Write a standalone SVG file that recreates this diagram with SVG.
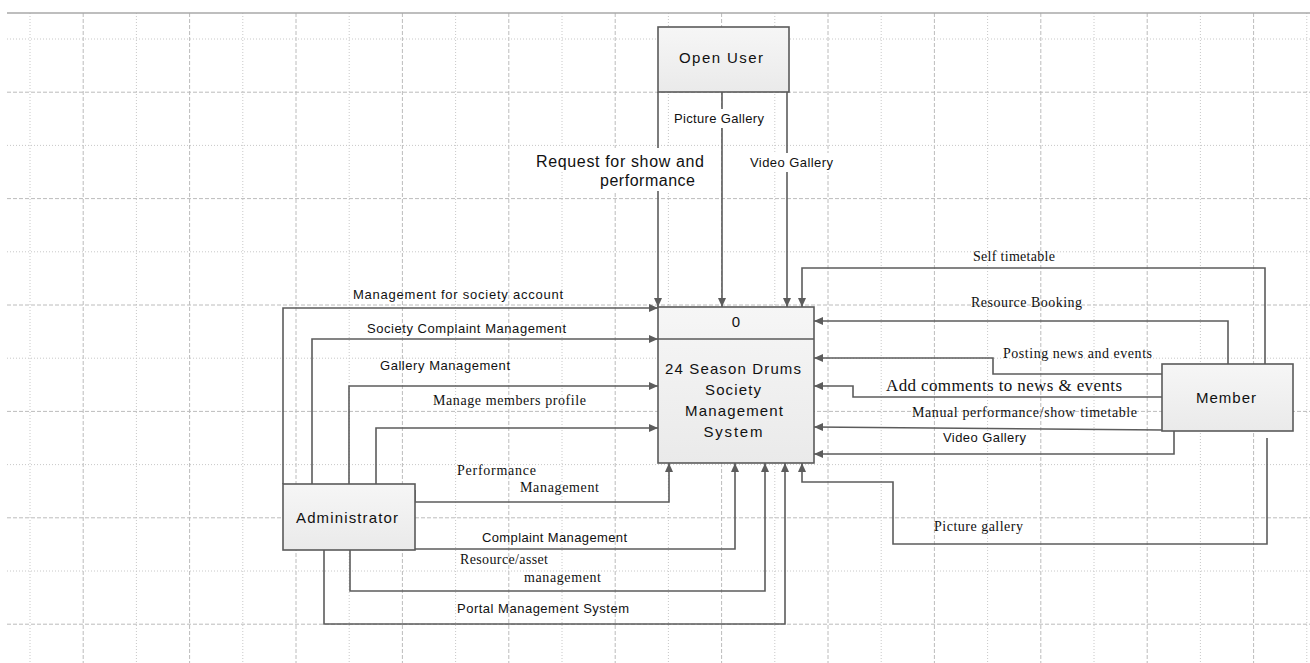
<svg xmlns="http://www.w3.org/2000/svg" width="1310" height="663" viewBox="0 0 1310 663">
  <defs>
    <linearGradient id="boxFill" x1="0" y1="0" x2="0" y2="1">
      <stop offset="0" stop-color="#f6f6f6"/>
      <stop offset="1" stop-color="#eaeaea"/>
    </linearGradient>
    <marker id="arrow" markerUnits="userSpaceOnUse" markerWidth="10" markerHeight="8" refX="9" refY="4" orient="auto">
      <path d="M0,0 L9,4 L0,8 z" fill="#5c5c5c"/>
    </marker>
    <style>
      .grid-dot{fill:none;stroke:#c8c8c8;stroke-width:1;stroke-dasharray:1 2}
      .grid-dash{fill:none;stroke:#bcbcbc;stroke-width:1;stroke-dasharray:4 2}
      .frame{fill:none;stroke:#a8a8a8;stroke-width:1.5}
      .box{fill:url(#boxFill);stroke:#5a5a5a;stroke-width:1.6}
      .flow{fill:none;stroke:#5c5c5c;stroke-width:1.6;marker-end:url(#arrow)}
      .stub{fill:none;stroke:#5c5c5c;stroke-width:1.6}
      .name{font-family:"Liberation Sans",Arial,sans-serif;font-size:15px;fill:#111;text-anchor:middle}
      .lbl{font-family:"Liberation Sans",Arial,sans-serif;font-size:13px;fill:#111}
      .big{font-family:"Liberation Sans",Arial,sans-serif;font-size:16px;fill:#111}
      .slbl{font-family:"Liberation Serif","Times New Roman",serif;font-size:14px;fill:#111}
      .sbig{font-family:"Liberation Serif","Times New Roman",serif;font-size:17px;fill:#111}
      .bg{fill:#fff}
    </style>
  </defs>

  <rect width="1310" height="663" fill="#fff"/>

  <!-- background grid -->
  <g id="grid">
    <path class="grid-dot" d="M30,13V663M136.4,13V663M242.8,13V663M349.2,13V663M455.6,13V663M562,13V663M668.4,13V663M774.8,13V663M881.2,13V663M987.6,13V663M1094,13V663M1200.4,13V663M1306.8,13V663"/>
    <path class="grid-dash" d="M83.2,13V663M189.6,13V663M296,13V663M402.4,13V663M508.8,13V663M615.2,13V663M721.6,13V663M828,13V663M934.4,13V663M1040.8,13V663M1147.2,13V663M1253.6,13V663"/>
    <path class="grid-dot" d="M7,39H1310M7,145.4H1310M7,251.8H1310M7,358.2H1310M7,464.6H1310M7,571H1310"/>
    <path class="grid-dash" d="M7,92.2H1310M7,198.6H1310M7,305H1310M7,411.4H1310M7,517.8H1310M7,624.2H1310"/>
    <path class="frame" d="M7,13H1310"/>
  </g>

  <!-- data flows -->
  <g id="connectors">
    <!-- Open User -->
    <path class="flow" d="M658,92V307"/>
    <path class="flow" d="M722,92V307"/>
    <path class="flow" d="M787,92V307"/>
    <!-- Administrator -->
    <path class="flow" d="M283,484V308H658"/>
    <path class="flow" d="M312,484V339H658"/>
    <path class="flow" d="M349,484V386H658"/>
    <path class="flow" d="M376,484V428H658"/>
    <path class="stub" d="M415,490V502"/>
    <path class="flow" d="M415,502H669V463"/>
    <path class="flow" d="M415,549H735V463"/>
    <path class="flow" d="M350,550V591H765V463"/>
    <path class="flow" d="M324,550V624H785V463"/>
    <!-- Member -->
    <path class="flow" d="M1265,366V268H802V307"/>
    <path class="flow" d="M1228,364V321H814"/>
    <path class="flow" d="M1162,374H993V358H814"/>
    <path class="flow" d="M1162,397H853V386H814"/>
    <path class="flow" d="M1162,430L814,427"/>
    <path class="flow" d="M1174,431V454H814"/>
    <path class="flow" d="M1267,438V544H893V482H802V463"/>
  </g>

  <!-- flow labels -->
  <g id="labels">
    <rect class="bg" x="672" y="109" width="94" height="19"/>
    <text class="lbl" x="674" y="123" textLength="90" lengthAdjust="spacing">Picture Gallery</text>
    <rect class="bg" x="748" y="153" width="87" height="19"/>
    <text class="lbl" x="750" y="167" textLength="83" lengthAdjust="spacing">Video Gallery</text>
    <rect class="bg" x="535" y="148" width="171" height="23"/>
    <rect class="bg" x="598" y="171" width="100" height="20"/>
    <text class="big" x="536" y="167" textLength="168" lengthAdjust="spacing">Request for show and</text>
    <text class="big" x="600" y="186" textLength="95" lengthAdjust="spacing">performance</text>

    <text class="lbl" x="353" y="299" textLength="210" lengthAdjust="spacing">Management for society account</text>
    <text class="lbl" x="367" y="333" textLength="199" lengthAdjust="spacing">Society Complaint Management</text>
    <text class="lbl" x="380" y="370" textLength="130" lengthAdjust="spacing">Gallery Management</text>
    <text class="slbl" x="433" y="405" textLength="153" lengthAdjust="spacing">Manage members profile</text>
    <text class="slbl" x="457" y="475" textLength="79" lengthAdjust="spacing">Performance</text>
    <text class="slbl" x="520" y="492" textLength="79" lengthAdjust="spacing">Management</text>
    <text class="lbl" x="482" y="542" textLength="145" lengthAdjust="spacing">Complaint Management</text>
    <text class="slbl" x="460" y="564" textLength="88" lengthAdjust="spacing">Resource/asset</text>
    <text class="slbl" x="524" y="582" textLength="77" lengthAdjust="spacing">management</text>
    <text class="lbl" x="457" y="613" textLength="172" lengthAdjust="spacing">Portal Management System</text>

    <text class="slbl" x="973" y="261" textLength="82" lengthAdjust="spacing">Self timetable</text>
    <text class="slbl" x="971" y="307" textLength="111" lengthAdjust="spacing">Resource Booking</text>
    <text class="slbl" x="1003" y="358" textLength="149" lengthAdjust="spacing">Posting news and events</text>
    <text class="sbig" x="886" y="391" textLength="236" lengthAdjust="spacing">Add comments to news &amp; events</text>
    <text class="slbl" x="912" y="417" textLength="225" lengthAdjust="spacing">Manual performance/show timetable</text>
    <text class="lbl" x="943" y="442" textLength="83" lengthAdjust="spacing">Video Gallery</text>
    <text class="slbl" x="934" y="531" textLength="89" lengthAdjust="spacing">Picture gallery</text>
  </g>

  <!-- external entities and process -->
  <g id="open-user">
    <rect class="box" x="658" y="27" width="131" height="65"/>
    <text class="name" x="721" y="63" textLength="84" lengthAdjust="spacing">Open User</text>
  </g>

  <g id="process-0">
    <rect class="box" x="658" y="307" width="156" height="156"/>
    <path d="M658,339H814" stroke="#5a5a5a" stroke-width="1.6"/>
    <text class="name" x="736" y="327">0</text>
    <text class="name" x="733" y="374" textLength="136" lengthAdjust="spacing">24 Season Drums</text>
    <text class="name" x="733" y="395" textLength="56" lengthAdjust="spacing">Society</text>
    <text class="name" x="734" y="416" textLength="98" lengthAdjust="spacing">Management</text>
    <text class="name" x="733" y="437" textLength="59" lengthAdjust="spacing">System</text>
  </g>

  <g id="member">
    <rect class="box" x="1162" y="364" width="131" height="67"/>
    <text class="name" x="1226" y="403" textLength="60" lengthAdjust="spacing">Member</text>
  </g>

  <g id="administrator">
    <rect class="box" x="283" y="484" width="132" height="66"/>
    <text class="name" x="347" y="523" textLength="102" lengthAdjust="spacing">Administrator</text>
  </g>
</svg>
